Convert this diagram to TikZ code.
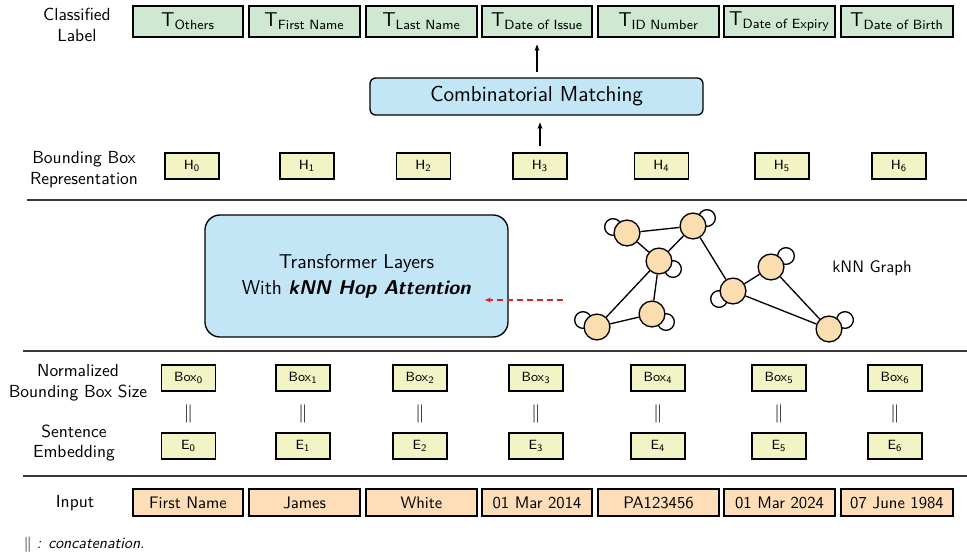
\documentclass[tikz,border=0pt]{standalone}
\usepackage{amsmath}
\renewcommand{\familydefault}{\sfdefault}
\usetikzlibrary{positioning,arrows.meta}
\definecolor{labelgreen}{HTML}{CFE8D1}
\definecolor{vecyellow}{HTML}{F2F4C6}
\definecolor{inpeach}{HTML}{FDDEB8}
\definecolor{nodepeach}{HTML}{FCDDB0}
\definecolor{blockblue}{HTML}{C3E6F6}
\definecolor{hopred}{HTML}{D62728}
\tikzset{
  lbl/.style={draw, line width=0.9pt, fill=labelgreen, minimum height=18.6pt, inner sep=1pt, font=\fontsize{12}{14}\selectfont},
  vec/.style={draw, line width=0.9pt, fill=vecyellow, minimum width=32.4pt, minimum height=15.6pt, inner sep=1pt, font=\fontsize{8}{9}\selectfont},
  inbox/.style={draw, line width=0.9pt, fill=inpeach, minimum height=16.2pt, inner sep=1pt, font=\fontsize{10}{12}\selectfont},
  rowtitle/.style={align=center, font=\fontsize{10.5}{12.5}\selectfont},
  block/.style={draw, line width=0.8pt, fill=blockblue, align=center},
  sepline/.style={line width=1.2pt, draw=black!78},
  gnode/.style={circle, draw, line width=0.8pt, fill=nodepeach, minimum size=15.5pt, inner sep=0pt},
  gloop/.style={draw, line width=0.8pt, fill=white},
  concat/.style={font=\fontsize{11}{12}\selectfont},
  arr/.style={line width=0.8pt, -{Stealth[length=4pt,width=3pt]}, shorten <=3.5pt, shorten >=4pt},
}
\begin{document}
\begin{tikzpicture}[x=0.6pt, y=-0.6pt]
  \useasboundingbox (0,0) rectangle (967,555);

  % Row titles
  \node[rowtitle] (tClassified) at (77,25) {Classified\\Label};
  \node[rowtitle] (tRepr) at (84,170) {Bounding Box\\Representation};
  \node[rowtitle] (tNorm) at (78,383) {Normalized\\Bounding Box Size};
  \node[rowtitle] (tSent) at (74,443) {Sentence\\Embedding};
  \node[rowtitle] (tInput) at (75,503) {Input};

  % Section lines
  \draw[sepline] (27,200) -- (967,200);
  \draw[sepline] (23,351) -- (967,351);
  \draw[sepline] (23,476) -- (967,476);

  % Classified labels
  \node[lbl, minimum width=66pt] (lOthers) at (188,21.5) {T\textsubscript{Others}};
  \node[lbl, minimum width=66.6pt] (lFirst) at (304.5,21.5) {T\textsubscript{First Name}};
  \node[lbl, minimum width=66.6pt] (lLast) at (421.5,21.5) {T\textsubscript{Last Name}};
  \node[lbl, minimum width=66pt] (lIssue) at (537,21.5) {T\textsubscript{Date of Issue}};
  \node[lbl, minimum width=72.6pt] (lID) at (658.5,21.5) {T\textsubscript{ID Number}};
  \node[lbl, minimum width=66.6pt] (lExpiry) at (779.5,21.5) {T\textsubscript{Date of Expiry}};
  \node[lbl, minimum width=67.2pt] (lBirth) at (897,21.5) {T\textsubscript{Date of Birth}};

  % Combinatorial matching
  \node[block, rounded corners=3.5pt, minimum width=199.8pt, minimum height=22.2pt,
        font=\fontsize{13}{15}\selectfont] (match) at (536.5,96.5) {Combinatorial Matching};

  % Bounding box representation
  \node[vec] (h0) at (192,166) {H\textsubscript{0}};
  \node[vec] (h1) at (307,166) {H\textsubscript{1}};
  \node[vec] (h2) at (423.5,166) {H\textsubscript{2}};
  \node[vec] (h3) at (540,166) {H\textsubscript{3}};
  \node[vec] (h4) at (661.5,166) {H\textsubscript{4}};
  \node[vec] (h5) at (782,166) {H\textsubscript{5}};
  \node[vec] (h6) at (899,166) {H\textsubscript{6}};

  \draw[arr] (h3.north) -- (h3.north |- match.south);
  \draw[arr] (match.north -| lIssue) -- (lIssue.south);

  % Transformer layers
  \node[block, rounded corners=9pt, minimum width=181.8pt, minimum height=73.2pt,
        font=\fontsize{12}{15.6}\selectfont] (trans) at (356.5,276)
        {Transformer Layers\\With \textbf{\textsl{kNN Hop Attention}}};

  % kNN graph: self loops
  \draw[gloop] (613,227) circle (5pt);
  \draw[gloop] (707,218) circle (5pt);
  \draw[gloop] (673,269) circle (5pt);
  \draw[gloop] (583,320) circle (5pt);
  \draw[gloop] (666,322) circle (5pt);
  \draw[gloop] (719,299) circle (5pt);
  \draw[gloop] (786,256) circle (5pt);
  \draw[gloop] (845,320) circle (5pt);

  % kNN graph: nodes and edges
  \node[gnode] (n1) at (627,233) {};
  \node[gnode] (n2) at (693,226) {};
  \node[gnode] (n3) at (659,261) {};
  \node[gnode] (n4) at (597,327) {};
  \node[gnode] (n5) at (652,314) {};
  \node[gnode] (n6) at (733,291) {};
  \node[gnode] (n7) at (771,267) {};
  \node[gnode] (n8) at (829,329) {};
  \draw[line width=0.8pt] (n1) -- (n2) (n1) -- (n3) (n2) -- (n3) (n3) -- (n4)
    (n3) -- (n5) (n4) -- (n5) (n2) -- (n6) (n6) -- (n7) (n6) -- (n8) (n7) -- (n8);
  \node[font=\fontsize{10}{12}\selectfont] (knn) at (872,268) {kNN Graph};

  % Hop attention hint
  \coordinate (hopout) at (563,300);
  \coordinate (hopin) at (485,300);
  \draw[hopred, line width=0.8pt, dash pattern=on 3.6pt off 2.4pt,
        -{Stealth[length=3.5pt,width=3pt]}] (hopout) -- (hopin);

  % Normalized bounding box size
  \node[vec] (b0) at (188.5,378) {Box\textsubscript{0}};
  \node[vec] (b1) at (303,378) {Box\textsubscript{1}};
  \node[vec] (b2) at (420,378) {Box\textsubscript{2}};
  \node[vec] (b3) at (536,378) {Box\textsubscript{3}};
  \node[vec] (b4) at (658,378) {Box\textsubscript{4}};
  \node[vec] (b5) at (779,378) {Box\textsubscript{5}};
  \node[vec] (b6) at (895,378) {Box\textsubscript{6}};

  % Concatenation marks
  \node[concat] (c0) at (188.5,414) {$\|$};
  \node[concat] (c1) at (303,414) {$\|$};
  \node[concat] (c2) at (420,414) {$\|$};
  \node[concat] (c3) at (536,414) {$\|$};
  \node[concat] (c4) at (658,414) {$\|$};
  \node[concat] (c5) at (779,414) {$\|$};
  \node[concat] (c6) at (895,414) {$\|$};

  % Sentence embedding
  \node[vec] (e0) at (188.5,446) {E\textsubscript{0}};
  \node[vec] (e1) at (303,446) {E\textsubscript{1}};
  \node[vec] (e2) at (420,446) {E\textsubscript{2}};
  \node[vec] (e3) at (536,446) {E\textsubscript{3}};
  \node[vec] (e4) at (658,446) {E\textsubscript{4}};
  \node[vec] (e5) at (779,446) {E\textsubscript{5}};
  \node[vec] (e6) at (895,446) {E\textsubscript{6}};

  % Input
  \node[inbox, minimum width=66pt] (iFirst) at (188,502.5) {First Name};
  \node[inbox, minimum width=66.6pt] (iJames) at (304.5,502.5) {James};
  \node[inbox, minimum width=66.6pt] (iWhite) at (421.5,502.5) {White};
  \node[inbox, minimum width=66pt] (iIssue) at (537,502.5) {01 Mar 2014};
  \node[inbox, minimum width=72.6pt] (iID) at (658.5,502.5) {PA123456};
  \node[inbox, minimum width=66.6pt] (iExpiry) at (779.5,502.5) {01 Mar 2024};
  \node[inbox, minimum width=67.2pt] (iBirth) at (897,502.5) {07 June 1984};

  % Footnote
  \node[anchor=west, font=\fontsize{9.5}{11}\selectfont] (note) at (18,545)
    {$\|$ \textit{: concatenation.}};
\end{tikzpicture}
\end{document}
